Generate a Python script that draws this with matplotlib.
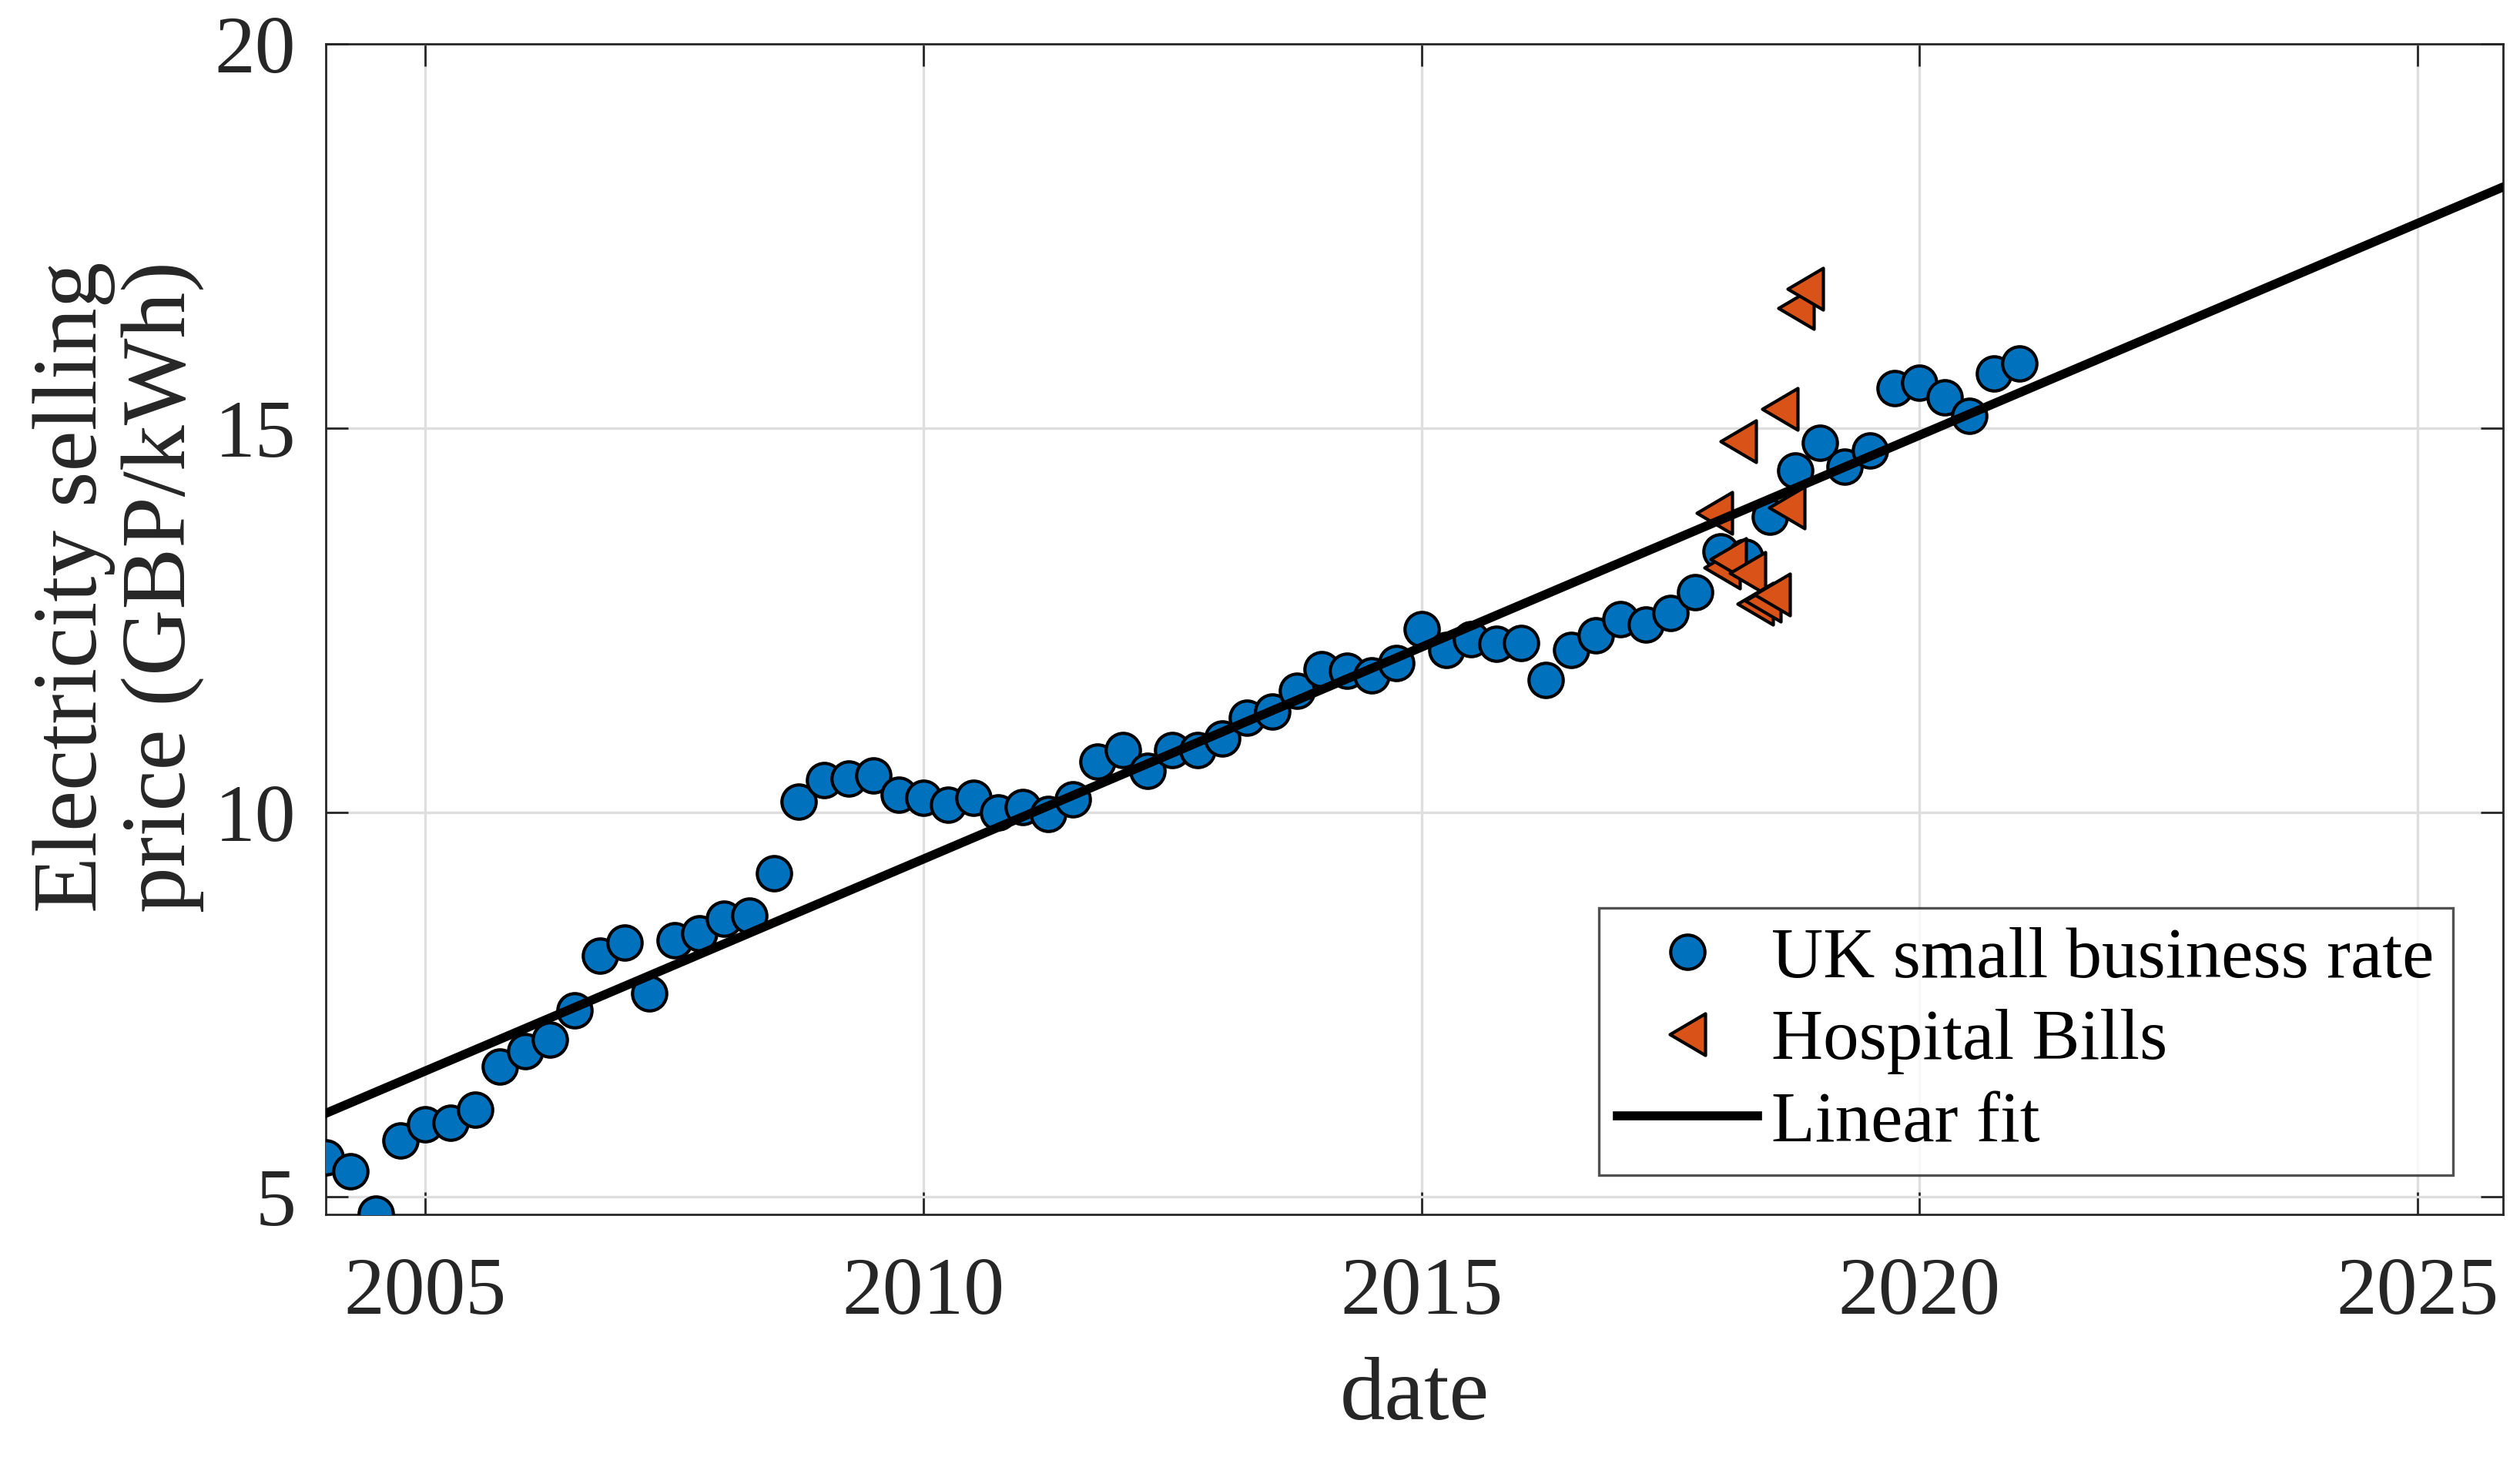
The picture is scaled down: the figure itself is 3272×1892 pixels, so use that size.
import numpy as np
import matplotlib
matplotlib.use('Agg')
import matplotlib.pyplot as plt
from matplotlib.path import Path

# quarterly UK small business electricity price (GBP/kWh), 2004 Q1 .. 2021 Q1
uk_start = 2004.0
uk_price = [5.51, 5.33, 4.78, 5.73, 5.94, 5.96, 6.13, 6.69, 6.89, 7.04,
            7.42, 8.14, 8.31, 7.65, 8.34, 8.43, 8.62, 8.66, 9.21, 10.14,
            10.42, 10.44, 10.48, 10.23, 10.19, 10.10, 10.19, 10.00, 10.07, 9.98,
            10.17, 10.66, 10.81, 10.54, 10.81, 10.81, 10.96, 11.23, 11.31, 11.58,
            11.86, 11.84, 11.78, 11.94, 12.38, 12.11, 12.25, 12.19, 12.20, 11.72,
            12.11, 12.30, 12.51, 12.44, 12.60, 12.87, 13.40, 13.33, 13.85, 14.45,
            14.81, 14.50, 14.71, 15.52, 15.59, 15.40, 15.16, 15.71, 15.84]
uk_date = uk_start + 0.25 * np.arange(len(uk_price))

# monthly hospital bills
hosp_date = [2017.94, 2018.02, 2018.08, 2018.18, 2018.27, 2018.35,
             2018.43, 2018.52, 2018.60, 2018.67, 2018.76, 2018.85]
hosp_price = [13.90, 13.19, 13.30, 14.83, 13.12, 12.72,
              12.76, 12.84, 15.25, 13.97, 16.56, 16.81]

fit_range = [2004.0, 2025.86]
year_ticks = [2005, 2010, 2015, 2020, 2025]
price_ticks = [5, 10, 15, 20]

plt.rcParams['font.family'] = ['Liberation Serif', 'DejaVu Serif']
grey = '#262626'

# matlab style left triangle, a bit taller than wide
tri_left = Path([(-0.85, 0), (0.85, -1), (0.85, 1), (-0.85, 0)],
                [Path.MOVETO, Path.LINETO, Path.LINETO, Path.CLOSEPOLY])

fig = plt.figure(figsize=(16.36, 9.46), dpi=200)
ax = fig.add_axes([0.1293, 0.1665, 0.864, 0.8034])

coef = np.polyfit(uk_date, uk_price, 1)
fx = np.array(fit_range)

ax.plot(uk_date, uk_price, 'o', ms=16, mfc='#0072BD', mec='black', mew=1.5,
        label='UK small business rate', zorder=3)
ax.plot(hosp_date, hosp_price, marker=tri_left, ls='none', ms=19.5,
        mfc='#D95319', mec='black', mew=1.5, label='Hospital Bills', zorder=3)
ax.plot(fx, np.polyval(coef, fx), '-', color='black', lw=4.2,
        label='Linear fit', zorder=4)

ax.set_xlim(fit_range)
ax.set_ylim(4.77, 20)
ax.set_xticks(year_ticks)
ax.set_yticks(price_ticks)
ax.grid(True, color='#dedede', lw=1.2)
ax.set_axisbelow(True)
ax.tick_params(direction='in', length=10.5, width=1.0, colors=grey,
               labelsize=38, top=True, right=True, pad=14)
ax.tick_params(axis='x', pad=20)
for s in ax.spines.values():
    s.set_color(grey)
    s.set_linewidth(1.0)

ax.set_xlabel('date', fontsize=42, color=grey, labelpad=12)
ax.set_ylabel('Electricity selling\nprice (GBP/kWh)', fontsize=43, color=grey,
              linespacing=1.08)
ax.yaxis.set_label_coords(-0.056, 0.536)

leg = ax.legend(loc='lower right', bbox_to_anchor=(0.977, 0.0336), fontsize=33.5,
                frameon=True, fancybox=False, edgecolor=grey,
                handlelength=1.95, handletextpad=0.2, labelspacing=0.23,
                borderpad=0.26, borderaxespad=0)
leg.get_frame().set_linewidth(1.2)

fig.savefig('out.png', dpi=200)
